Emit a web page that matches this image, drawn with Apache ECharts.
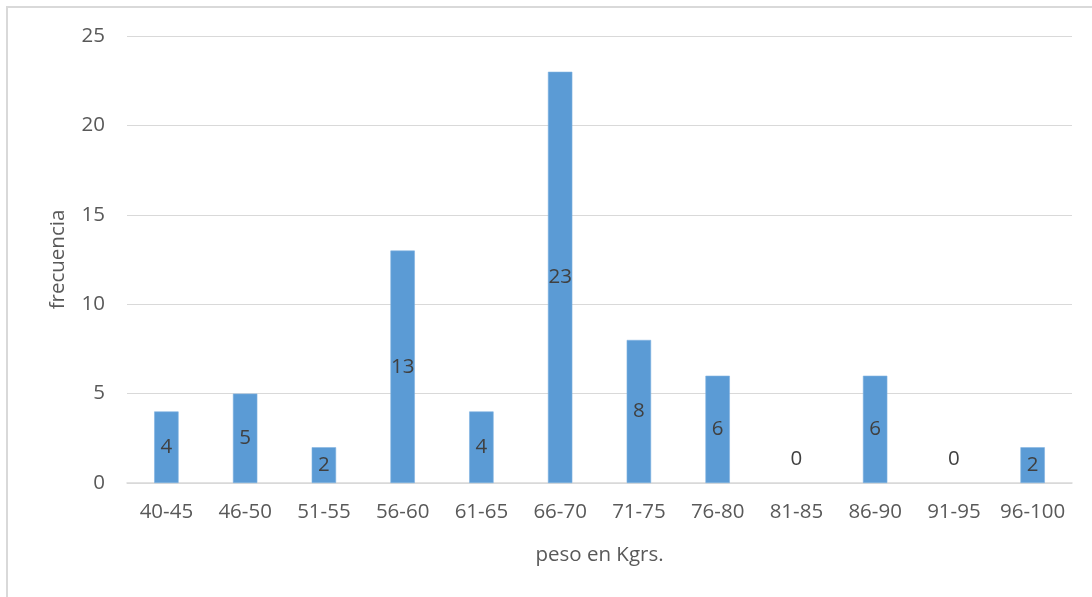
<!DOCTYPE html>
<html>
<head>
<meta charset="utf-8">
<script src="https://cdn.jsdelivr.net/npm/echarts@6/dist/echarts.min.js"></script>
<style>
  html, body { margin: 0; padding: 0; background: #ffffff; }
  #frame { position: absolute; left: 6px; top: 6px; width: 1100px; height: 620px; border-left: 2px solid #d9d9d9; border-top: 2px solid #d9d9d9; box-sizing: border-box; }
  #chart { width: 1092px; height: 597px; position: absolute; left: 0; top: 0; }
</style>
</head>
<body>
<div id="frame"></div>
<div id="chart"></div>
<script>
// Weight ranges (kg) and how many people fall in each
const categories = ['40-45', '46-50', '51-55', '56-60', '61-65', '66-70', '71-75', '76-80', '81-85', '86-90', '91-95', '96-100'];
const frecuencias = [4, 5, 2, 13, 4, 23, 8, 6, 0, 6, 0, 2];
const yTicks = [0, 5, 10, 15, 20, 25];

const font = '"Open Sans", "Noto Sans", sans-serif';
const textSize = 20.5;

// Zero-height bars get their label lifted above the baseline
const barData = frecuencias.map(v => v === 0
  ? { value: v, label: { position: 'top', distance: 13 }, itemStyle: { borderWidth: 0 } }
  : v);

const chart = echarts.init(document.getElementById('chart'), null, { renderer: 'canvas' });
chart.setOption({
  backgroundColor: 'transparent',
  animation: false,
  grid: { left: 127, right: 20, top: 36, bottom: 114 },
  xAxis: {
    type: 'category',
    data: categories,
    name: 'peso en Kgrs.',
    nameLocation: 'middle',
    nameGap: 62,
    nameTextStyle: { color: '#595959', fontSize: textSize, fontFamily: font },
    axisLine: { lineStyle: { color: '#d9d9d9', width: 1.5 } },
    axisTick: { show: false },
    axisLabel: { color: '#595959', fontSize: textSize, fontFamily: font, margin: 19, interval: 0 }
  },
  yAxis: {
    type: 'value',
    min: yTicks[0],
    max: yTicks[yTicks.length - 1],
    interval: 5,
    name: 'frecuencia',
    nameLocation: 'middle',
    nameGap: 58,
    nameRotate: 90,
    nameTextStyle: { color: '#595959', fontSize: textSize, fontFamily: font },
    axisLine: { show: false },
    axisTick: { show: false },
    splitLine: { lineStyle: { color: '#d9d9d9', width: 1.2 } },
    axisLabel: { color: '#595959', fontSize: textSize, fontFamily: font, margin: 22 }
  },
  series: [{
    type: 'bar',
    data: barData,
    barWidth: '31%',
    itemStyle: { color: '#5b9bd5', borderColor: '#7fb2e0', borderWidth: 0.6 },
    label: {
      show: true,
      position: 'inside',
      color: '#404040',
      fontSize: textSize,
      fontFamily: font
    }
  }]
});
</script>
</body>
</html>
